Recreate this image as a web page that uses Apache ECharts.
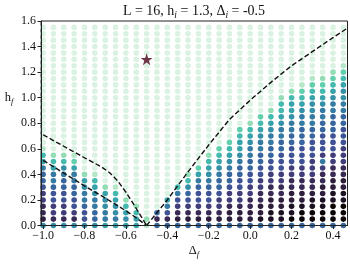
<!DOCTYPE html>
<html><head><meta charset="utf-8">
<script src="https://cdn.jsdelivr.net/npm/echarts@6/dist/echarts.min.js"></script>
<style>html,body{margin:0;padding:0;background:#fff}#c{width:350px;height:264px}</style>
</head><body><div id="c"></div>
<script>
// grid columns (Δ_f) and rows (h_f)
const colX = [-1.0,-0.95,-0.9,-0.85,-0.8,-0.75,-0.7,-0.65,-0.6,-0.55,-0.5,-0.45,-0.4,-0.35,-0.3,-0.25,-0.2,-0.15,-0.1,-0.05,0.0,0.05,0.1,0.15,0.2,0.25,0.3,0.35,0.4,0.45];
const rowY = [0.0,0.05,0.1,0.15,0.2,0.25,0.3,0.35,0.4,0.45,0.5,0.55,0.6,0.65,0.7,0.75,0.8,0.85,0.9,0.95,1.0,1.05,1.1,1.15,1.2,1.25,1.3,1.35,1.4,1.45,1.5,1.55];
// colour level per column, bottom row first (hex digit 0 = pale .. e = black)
const levels = [
  "6cbbaa98"+"87541000"+"00000000"+"00000000",
  "6baa9987"+"75420000"+"00000000"+"00000000",
  "6baa9988"+"76420000"+"00000000"+"00000000",
  "6ba99887"+"75310000"+"00000000"+"00000000",
  "69987765"+"20000000"+"00000000"+"00000000",
  "68877654"+"10000000"+"00000000"+"00000000",
  "57766520"+"00000000"+"00000000"+"00000000",
  "57665410"+"00000000"+"00000000"+"00000000",
  "56542000"+"00000000"+"00000000"+"00000000",
  "55420000"+"00000000"+"00000000"+"00000000",
  "12000000"+"00000000"+"00000000"+"00000000",
  "8b800000"+"00000000"+"00000000"+"00000000",
  "8b975000"+"00000000"+"00000000"+"00000000",
  "8cba9740"+"00000000"+"00000000"+"00000000",
  "8cba9864"+"20000000"+"00000000"+"00000000",
  "8cba9987"+"53000000"+"00000000"+"00000000",
  "8cba9987"+"65420000"+"00000000"+"00000000",
  "8cbaa988"+"76543000"+"00000000"+"00000000",
  "8ccbaa98"+"87654300"+"00000000"+"00000000",
  "8ccbaa99"+"88765543"+"00000000"+"00000000",
  "8ccbbaa9"+"98877654"+"20000000"+"00000000",
  "8dccbbaa"+"99887765"+"43000000"+"00000000",
  "8ddccbba"+"a9988776"+"54200000"+"00000000",
  "8ddccbba"+"a9998877"+"65442000"+"00000000",
  "8eddccbb"+"aa999887"+"76554200"+"00000000",
  "8eedccbb"+"aa999888"+"77654310"+"00000000",
  "8eeddcbb"+"aaa99988"+"77665431"+"00000000",
  "8eeddccb"+"ba7a9998"+"87765432"+"00000000",
  "8eeeddcc"+"bbaa9998"+"88776543"+"20000000",
  "8eeeddcc"+"bbaaa999"+"88776654"+"31000000"
];
const palette = ['#d9f2e1','#b6e6c8','#93dcb5','#62cfac','#44b9ad','#37a2aa','#348fa7','#357aa2','#37659e','#3e5295','#413d7b','#382a54','#2e1e3c','#1c1122','#0b0405'];

// dashed boundary curves
const lineAx = [-1.0,-0.9,-0.8,-0.72,-0.68,-0.64,-0.6,-0.56,-0.53,-0.5];
const lineAy = [0.71,0.62,0.53,0.46,0.415,0.35,0.26,0.16,0.08,0.0];
const lineBx = [-1.0,-0.9,-0.8,-0.7,-0.6,-0.55,-0.5];
const lineBy = [0.51,0.41,0.31,0.215,0.115,0.06,0.0];
const lineCx = [-0.5,-0.45,-0.4,-0.3,-0.2,-0.1,0.0,0.1,0.2,0.3,0.4,0.47];
const lineCy = [0.0,0.1,0.2,0.42,0.63,0.83,0.98,1.12,1.25,1.36,1.47,1.545];
const starX = [-0.5], starY = [1.3];

const xTicks = [-1.0,-0.8,-0.6,-0.4,-0.2,0.0,0.2,0.4];
const yTicks = [0.0,0.2,0.4,0.6,0.8,1.0,1.2,1.4,1.6];

const pts = [];
colX.forEach((x,i)=>{ rowY.forEach((y,j)=>{ pts.push([x,y,parseInt(levels[i][j],16)]); }); });
const zipL = (a,b)=>a.map((v,k)=>[v,b[k]]);

const FONT = 'Liberation Serif';
const fmt = v => (v < -1e-9 ? '\u2212' + Math.abs(v).toFixed(1) : Math.abs(v).toFixed(1));
const chart = echarts.init(document.getElementById('c'), null, {renderer:'canvas'});
const dash = {color:'#111', width:1.4, type:[5,2.5]};
chart.setOption({
  animation:false,
  grid:{left:41, right:2.5, top:21, bottom:38.5, show:true, borderColor:'#222', borderWidth:1, outerBoundsMode:'none'},
  xAxis:{type:'value', min:-1.01, max:0.47, z:10,
    axisLine:{show:true, onZero:false, lineStyle:{color:'#222'}},
    splitLine:{show:false},
    axisTick:{show:true, length:3.5, customValues:xTicks, lineStyle:{color:'#222'}},
    axisLabel:{customValues:xTicks, formatter:fmt, color:'#111', fontFamily:FONT, fontSize:12, margin:4}},
  yAxis:{type:'value', min:0, max:1.6, interval:0.2, z:10,
    axisLine:{show:true, onZero:false, lineStyle:{color:'#222'}},
    splitLine:{show:false},
    axisTick:{show:true, length:3.5, lineStyle:{color:'#222'}},
    axisLabel:{formatter:v=>v.toFixed(1), color:'#111', fontFamily:FONT, fontSize:12, margin:5}},
  series:[
    {type:'scatter', data:pts, symbolSize:5.6, clip:true,
     itemStyle:{color:p=>palette[p.value[2]], opacity:1}, z:2},
    {type:'line', data:zipL(lineAx,lineAy), showSymbol:false, symbol:'none', lineStyle:dash, z:3, clip:true},
    {type:'line', data:zipL(lineBx,lineBy), showSymbol:false, symbol:'none', lineStyle:dash, z:3, clip:true},
    {type:'line', data:zipL(lineCx,lineCy), showSymbol:false, symbol:'none', lineStyle:dash, z:3, clip:true},
    {type:'scatter', data:zipL(starX,starY), symbol:'path://M50,0 L61.8,35.1 L98.9,35.1 L69.1,56.7 L80.3,91.9 L50,70 L19.7,91.9 L30.9,56.7 L1.1,35.1 L38.2,35.1 Z',
     symbolSize:12, itemStyle:{color:'#520820'}, z:4}
  ],
  graphic:[
    {type:'text', x:194, y:11, style:{text:'{n|L = 16, h}{s|i}{n| = 1.3, Δ}{s|i}{n| = -0.5}', align:'center', verticalAlign:'middle',
      rich:{n:{fontFamily:FONT, fontSize:14, lineHeight:18, fill:'#111'}, s:{fontFamily:FONT, fontSize:9.5, fontStyle:'italic', lineHeight:18, verticalAlign:'bottom', fill:'#111'}}}},
    {type:'text', x:9, y:98, style:{text:'{n|h}{s|f}', align:'center', verticalAlign:'middle',
      rich:{n:{fontFamily:FONT, fontSize:12.5, lineHeight:16, fill:'#111'}, s:{fontFamily:FONT, fontSize:8.5, fontStyle:'italic', lineHeight:16, verticalAlign:'bottom', fill:'#111'}}}},
    {type:'text', x:194, y:251, style:{text:'{n|Δ}{s|f}', align:'center', verticalAlign:'middle',
      rich:{n:{fontFamily:FONT, fontSize:12.5, lineHeight:16, fill:'#111'}, s:{fontFamily:FONT, fontSize:8.5, fontStyle:'italic', lineHeight:16, verticalAlign:'bottom', fill:'#111'}}}}
  ]
});
</script></body></html>
